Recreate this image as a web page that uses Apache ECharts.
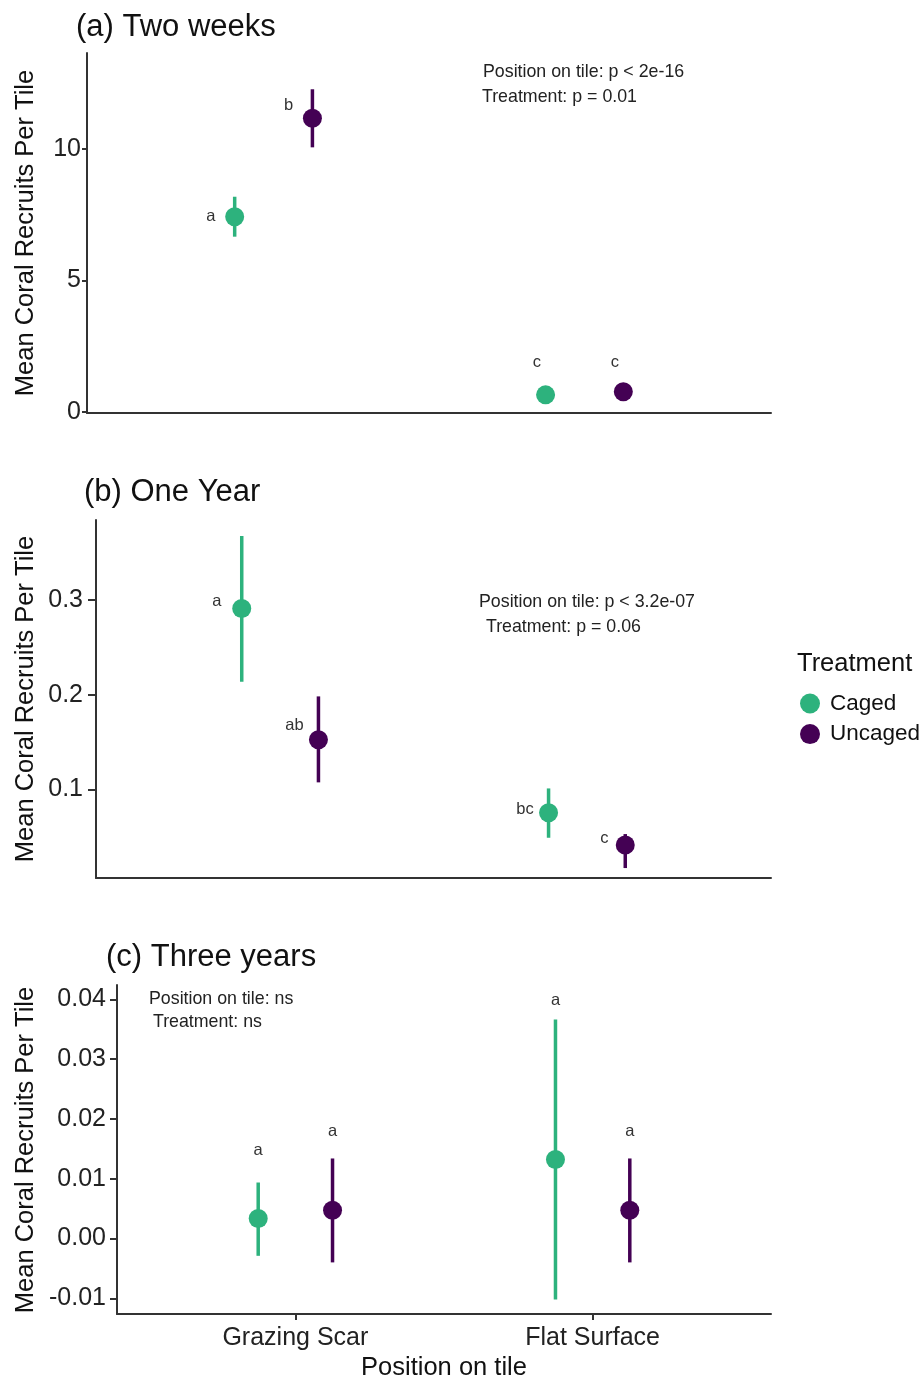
<!DOCTYPE html>
<html><head><meta charset="utf-8">
<script src="https://cdn.jsdelivr.net/npm/echarts@6/dist/echarts.min.js"></script>
<style>html,body{margin:0;padding:0;background:#fff}#c{width:921px;height:1378px}</style>
</head><body><div id="c"></div>
<script>
// ---------- DATA ----------
const categories = ['Grazing Scar', 'Flat Surface'];
const treatments = ['Caged', 'Uncaged'];

// Panel (a) Two weeks
const meanA_caged   = [7.42, 0.64];
const loA_caged     = [6.66, 0.46];
const hiA_caged     = [8.18, 0.82];
const meanA_uncaged = [11.17, 0.76];
const loA_uncaged   = [10.06, 0.56];
const hiA_uncaged   = [12.27, 0.96];
const lettersA_caged   = ['a', 'c'];
const lettersA_uncaged = ['b', 'c'];
const letterYA_caged   = [7.42, 1.865];
const letterYA_uncaged = [11.64, 1.865];
const ticksA = [0, 5, 10];
const tickLabelsA = ['0', '5', '10'];

// Panel (b) One Year
const meanB_caged   = [0.291, 0.0753];
const loB_caged     = [0.2137, 0.0489];
const hiB_caged     = [0.3676, 0.101];
const meanB_uncaged = [0.1525, 0.0412];
const loB_uncaged   = [0.1074, 0.0169];
const hiB_uncaged   = [0.1982, 0.0528];
const lettersB_caged   = ['a', 'bc'];
const lettersB_uncaged = ['ab', 'c'];
const letterYB_caged   = [0.2982, 0.079];
const letterYB_uncaged = [0.168, 0.0484];
const ticksB = [0.1, 0.2, 0.3];
const tickLabelsB = ['0.1', '0.2', '0.3'];

// Panel (c) Three years
const meanC_caged   = [0.00334, 0.0132];
const loC_caged     = [-0.0029, -0.0102];
const hiC_caged     = [0.00936, 0.0366];
const meanC_uncaged = [0.00473, 0.00473];
const loC_uncaged   = [-0.0040, -0.0040];
const hiC_uncaged   = [0.01338, 0.01338];
const lettersC_caged   = ['a', 'a'];
const lettersC_uncaged = ['a', 'a'];
const letterYC_caged   = [0.01477, 0.03985];
const letterYC_uncaged = [0.01783, 0.01783];
const ticksC = [-0.01, 0, 0.01, 0.02, 0.03, 0.04];
const tickLabelsC = ['-0.01', '0.00', '0.01', '0.02', '0.03', '0.04'];

const titles = ['(a) Two weeks', '(b) One Year', '(c) Three years'];
const statsA = ['Position on tile: p < 2e-16', 'Treatment: p = 0.01'];
const statsB = ['Position on tile: p < 3.2e-07', ' Treatment: p = 0.06'];
const statsC = ['Position on tile: ns', ' Treatment: ns'];
const yName = 'Mean Coral Recruits Per Tile';
const xName = 'Position on tile';

// ---------- STYLE ----------
const FONT = '"Liberation Sans", Arial, Helvetica, sans-serif';
const COLORS = {Caged: '#2DB27D', Uncaged: '#440154'};
const DODGE = 0.125;
// letter nudges (like ggplot nudge_x) per panel
const nudgeA = {Caged: [-0.077, -0.028], Uncaged: [-0.077, -0.027]};
const nudgeB = {Caged: [-0.081, -0.077], Uncaged: [-0.078, -0.068]};
const nudgeC = {Caged: [0, 0], Uncaged: [0, 0]};

const panels = [
  {grid: {left: 87, top: 53, width: 684, height: 360}, ymin: -0.05, ymax: 13.65,
   ticks: ticksA, tickLabels: tickLabelsA, tickLen: 5, labelMargin: 6, showX: false,
   data: {Caged: [meanA_caged, loA_caged, hiA_caged, lettersA_caged, letterYA_caged],
          Uncaged: [meanA_uncaged, loA_uncaged, hiA_uncaged, lettersA_uncaged, letterYA_uncaged]},
   nudge: nudgeA},
  {grid: {left: 96, top: 520, width: 675, height: 358}, ymin: 0.0064, ymax: 0.3845,
   ticks: ticksB, tickLabels: tickLabelsB, tickLen: 8, labelMargin: 13, showX: false,
   data: {Caged: [meanB_caged, loB_caged, hiB_caged, lettersB_caged, letterYB_caged],
          Uncaged: [meanB_uncaged, loB_uncaged, hiB_uncaged, lettersB_uncaged, letterYB_uncaged]},
   nudge: nudgeB},
  {grid: {left: 117, top: 985, width: 654, height: 329}, ymin: -0.01263, ymax: 0.04239,
   ticks: ticksC, tickLabels: tickLabelsC, tickLen: 7, labelMargin: 11, showX: true,
   data: {Caged: [meanC_caged, loC_caged, hiC_caged, lettersC_caged, letterYC_caged],
          Uncaged: [meanC_uncaged, loC_uncaged, hiC_uncaged, lettersC_uncaged, letterYC_uncaged]},
   nudge: nudgeC}
];

const axisLineStyle = {color: '#333', width: 2};
const grids = [], xAxes = [], yAxes = [], series = [];

panels.forEach((p, k) => {
  grids.push(Object.assign({containLabel: false, outerBoundsMode: 'none'}, p.grid));
  xAxes.push({
    gridIndex: k, type: 'value', min: 0.4, max: 2.6,
    axisLine: {show: true, onZero: false, lineStyle: axisLineStyle},
    axisTick: {show: p.showX, length: 6, lineStyle: axisLineStyle, customValues: [1, 2]},
    axisLabel: {show: p.showX, customValues: [1, 2], fontSize: 25, color: '#222', margin: 12,
                fontFamily: FONT, formatter: v => categories[Math.round(v) - 1]},
    splitLine: {show: false}
  });
  yAxes.push({
    gridIndex: k, type: 'value', min: p.ymin, max: p.ymax,
    axisLine: {show: true, onZero: false, lineStyle: axisLineStyle},
    axisTick: {show: true, length: p.tickLen, lineStyle: axisLineStyle, customValues: p.ticks},
    axisLabel: {customValues: p.ticks, fontSize: 25, color: '#222', margin: p.labelMargin,
                fontFamily: FONT,
                formatter: v => {
                  let best = 0;
                  p.ticks.forEach((t, i) => { if (Math.abs(t - v) < Math.abs(p.ticks[best] - v)) best = i; });
                  return p.tickLabels[best];
                }},
    splitLine: {show: false}
  });

  treatments.forEach((trt, ti) => {
    const d = p.data[trt];
    const mean = d[0], lo = d[1], hi = d[2], letters = d[3], letterY = d[4];
    const dodge = ti === 0 ? -DODGE : DODGE;
    const color = COLORS[trt];
    // error bars
    series.push({
      type: 'custom', name: trt, xAxisIndex: k, yAxisIndex: k, z: 2, silent: true,
      itemStyle: {color: color},
      data: categories.map((c, i) => [i + 1 + dodge, lo[i], hi[i]]),
      encode: {x: 0, y: [1, 2]},
      renderItem: (params, api) => {
        const a = api.coord([api.value(0), api.value(1)]);
        const b = api.coord([api.value(0), api.value(2)]);
        return {type: 'line', shape: {x1: a[0], y1: a[1], x2: b[0], y2: b[1]},
                style: {stroke: color, lineWidth: 3.5}};
      }
    });
    // points
    series.push({
      type: 'scatter', name: trt, xAxisIndex: k, yAxisIndex: k, z: 3, silent: true,
      symbol: 'circle', symbolSize: 19, itemStyle: {color: color, opacity: 1},
      data: categories.map((c, i) => [i + 1 + dodge, mean[i]])
    });
    // significance letters
    series.push({
      type: 'custom', xAxisIndex: k, yAxisIndex: k, z: 4, silent: true,
      data: categories.map((c, i) => [i + 1 + dodge + p.nudge[trt][i], letterY[i], i]),
      encode: {x: 0, y: 1},
      renderItem: (params, api) => {
        const pt = api.coord([api.value(0), api.value(1)]);
        return {type: 'text', x: pt[0], y: pt[1],
                style: {text: letters[api.value(2)], fill: '#333', fontSize: 16.5, fontFamily: FONT,
                        align: 'center', verticalAlign: 'middle'}};
      }
    });
  });
});

function txt(x, y, text, size, opts) {
  return Object.assign({type: 'text', x: x, y: y, silent: true,
    style: Object.assign({text: text, fill: '#111', fontSize: size, fontFamily: FONT,
                          align: 'left', verticalAlign: 'middle'}, (opts && opts.style) || {})},
    (opts && opts.el) || {});
}

const graphic = [
  txt(76, 27, titles[0], 31),
  txt(84, 492, titles[1], 31),
  txt(106, 957, titles[2], 31),
  txt(483, 72, statsA[0], 17.8, {style: {fill: '#222'}}),
  txt(482, 97, statsA[1], 17.8, {style: {fill: '#222'}}),
  txt(479, 602, statsB[0], 17.8, {style: {fill: '#222'}}),
  txt(481, 627, statsB[1], 17.8, {style: {fill: '#222'}}),
  txt(149, 999, statsC[0], 17.8, {style: {fill: '#222'}}),
  txt(148, 1022, statsC[1], 17.8, {style: {fill: '#222'}}),
  txt(26, 233, yName, 25.5, {style: {align: 'center'}, el: {rotation: Math.PI / 2}}),
  txt(26, 699, yName, 25.5, {style: {align: 'center'}, el: {rotation: Math.PI / 2}}),
  txt(26, 1150, yName, 25.5, {style: {align: 'center'}, el: {rotation: Math.PI / 2}}),
  txt(444, 1368, xName, 25.5, {style: {align: 'center'}}),
  txt(797, 664, 'Treatment', 25.5)
];

const chart = echarts.init(document.getElementById('c'), null, {renderer: 'canvas'});
chart.setOption({
  backgroundColor: '#fff',
  animation: false,
  textStyle: {fontFamily: FONT},
  grid: grids,
  xAxis: xAxes,
  yAxis: yAxes,
  legend: {
    data: treatments, orient: 'vertical', left: 800, top: 692, padding: 0,
    itemWidth: 20, itemHeight: 20, itemGap: 7.6, icon: 'circle',
    selectedMode: false,
    textStyle: {fontSize: 22.5, color: '#111', lineHeight: 20, padding: [0, 0, 0, 5], fontFamily: FONT}
  },
  series: series,
  graphic: graphic
});
</script>
</body></html>
